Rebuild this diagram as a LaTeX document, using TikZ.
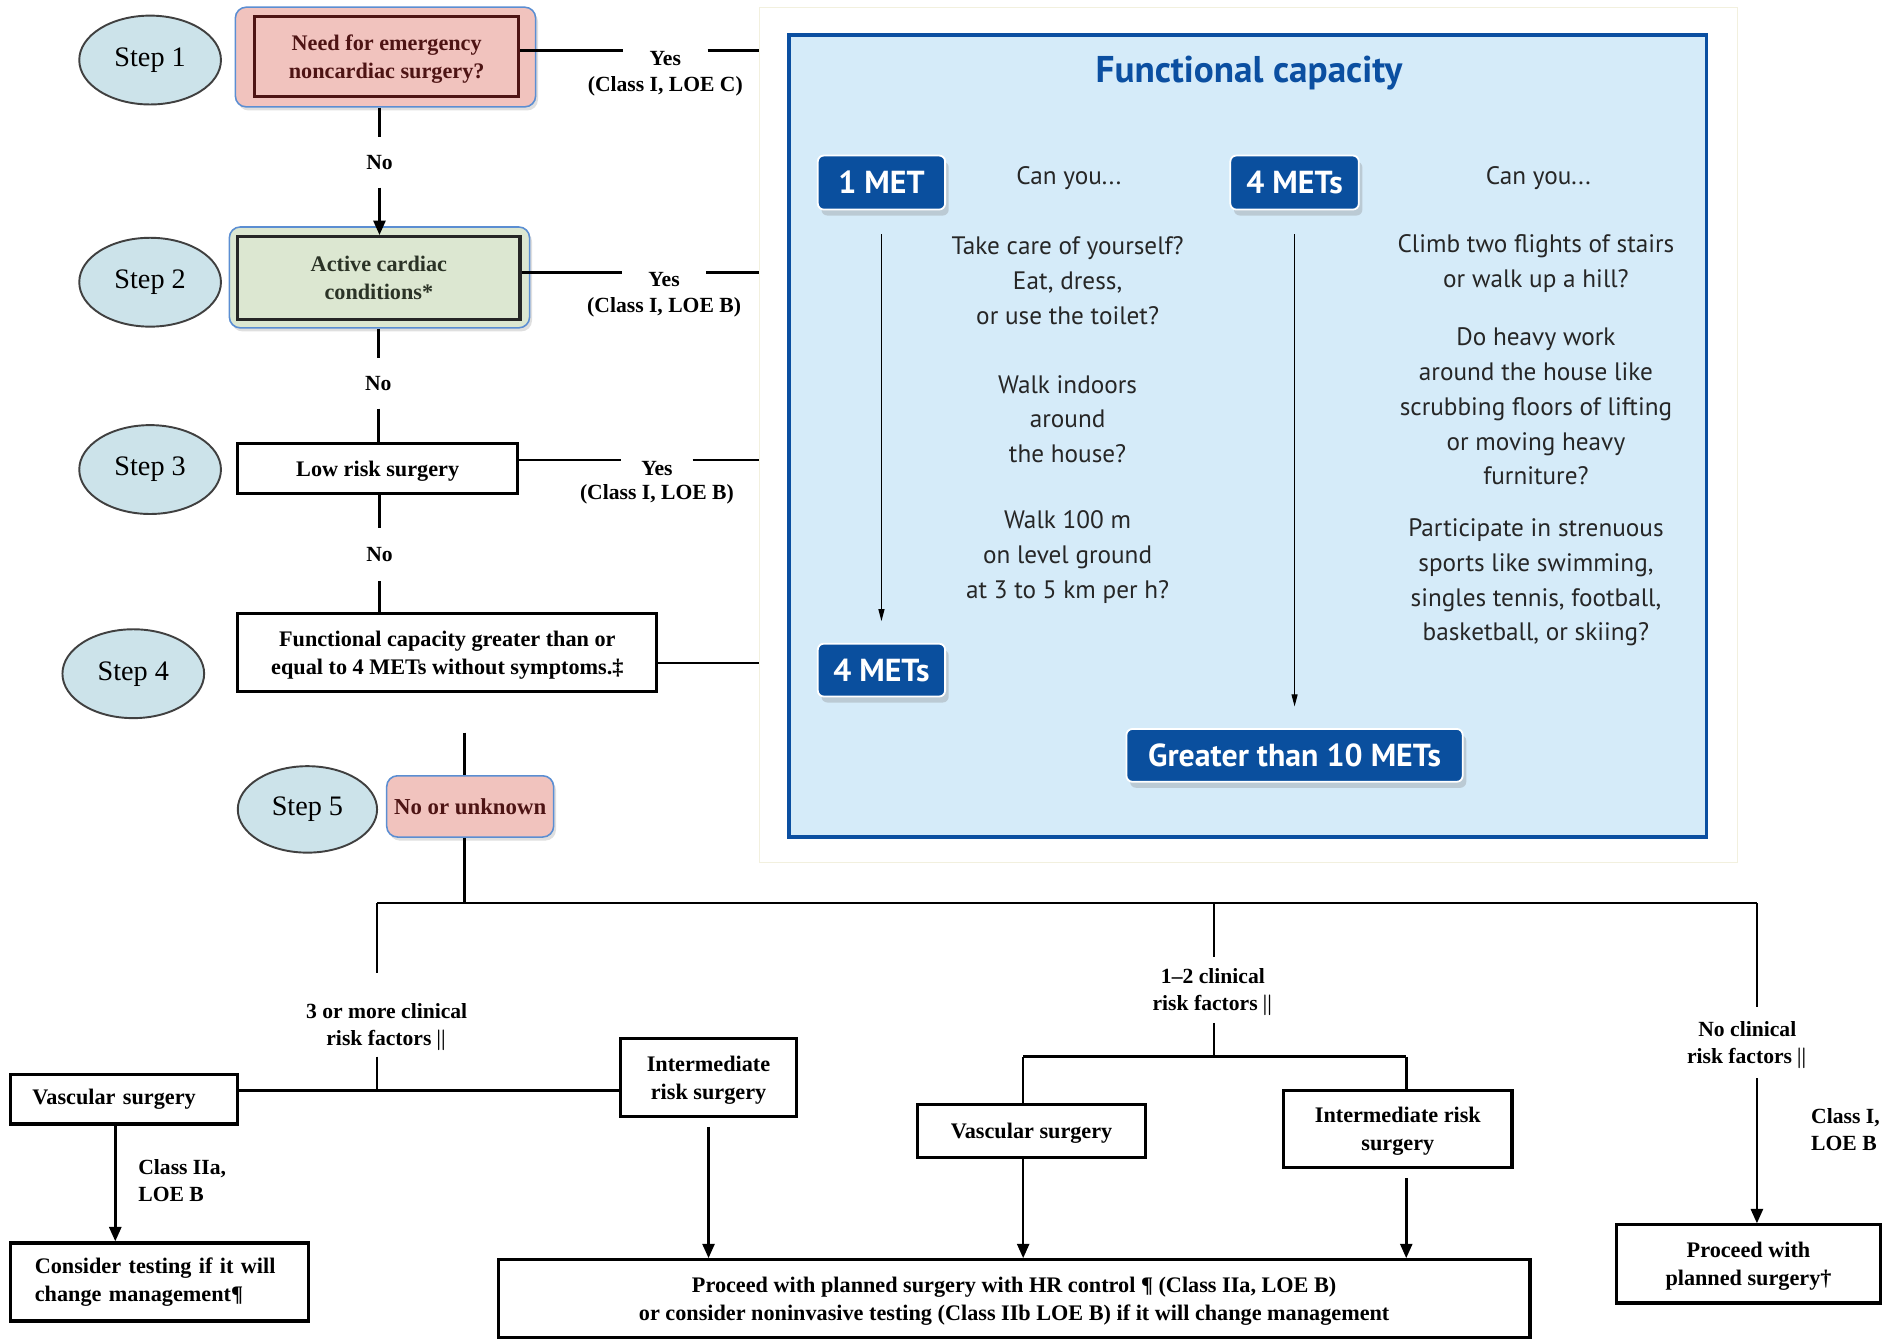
\documentclass[tikz,border=0pt]{standalone}
\usepackage{fontspec}
\setmainfont{Liberation Serif}
\newfontfamily\gillsans{PT Sans}
\usetikzlibrary{arrows.meta,shapes.geometric,shadows,calc}

\definecolor{stepfill}{HTML}{CCE3EA}
\definecolor{pinkfill}{HTML}{F1C3BE}
\definecolor{greenfill}{HTML}{DCE7D1}
\definecolor{haloline}{HTML}{5B8ED2}
\definecolor{darkred}{HTML}{4E1414}
\definecolor{darkgreen}{HTML}{2B3326}
\definecolor{panelfill}{HTML}{D5EBF9}
\definecolor{panelline}{HTML}{0B4FA1}
\definecolor{badgefill}{HTML}{0A4F9E}
\definecolor{cream}{HTML}{F2F0DE}

\begin{document}
\begin{tikzpicture}[x=1pt,y=-1pt,
  stepoval/.style={ellipse, draw=black!75, line width=1.6pt, fill=stepfill,
    minimum width=118pt, minimum height=74pt, font=\fontsize{23.5}{26}\selectfont},
  leftbox/.style={rectangle, draw, line width=2.6pt, align=left, inner ysep=2pt,
    font=\fontsize{18.5}{23}\selectfont\bfseries},
  box/.style={rectangle, draw, line width=2.6pt, align=center, inner sep=2pt, text depth=-2pt,
    font=\fontsize{18.5}{23}\selectfont\bfseries},
  halo/.style={rectangle, rounded corners=9pt, draw=haloline, line width=1.3pt,
    drop shadow={opacity=0.25, shadow xshift=2pt, shadow yshift=-3pt}},
  lbl/.style={align=center, inner sep=1pt, font=\fontsize{18}{22.5}\selectfont\bfseries},
  nolbl/.style={lbl, minimum height=42pt},
  yeslbl/.style={lbl, minimum width=70pt},
  link/.style={line width=2.2pt},
  arr/.style={line width=2.2pt, -{Triangle[length=12pt,width=10pt]}},
  badge/.style={rectangle, rounded corners=5pt, fill=badgefill, draw=white, line width=1.5pt,
    text=white, font=\gillsans\fontsize{26.5}{28}\selectfont\bfseries,
    drop shadow={opacity=0.3, shadow xshift=3pt, shadow yshift=-5pt}},
  ask/.style={align=center, inner sep=0pt, text=black!85,
    font=\gillsans\fontsize{21}{29}\selectfont},
  thinarr/.style={line width=0.9pt, -{Triangle[length=10pt,width=5pt]}}]

\useasboundingbox (0,0) rectangle (1568,1116);

% functional capacity panel
\node[rectangle, draw=cream, fill=white, minimum width=815pt, minimum height=712pt] (panel) at (1039.5,362) {};
\node[rectangle, draw=panelline, line width=3pt, fill=panelfill, minimum width=764pt, minimum height=668pt] (fcbox) at (1039,363) {};
\node[text=panelline, font=\gillsans\fontsize{31}{33}\selectfont\bfseries] (fctitle) at (1040,61) {Functional capacity};

\node[badge, minimum width=106pt, minimum height=45pt] (met1) at (734,152) {1 MET};
\node[badge, minimum width=107pt, minimum height=45pt] (met4a) at (1078,152) {4 METs};
\node[badge, minimum width=106pt, minimum height=44pt] (met4b) at (734,558) {4 METs};
\node[badge, minimum width=280pt, minimum height=44pt] (met10) at (1078,629) {Greater than 10 METs};

\node[ask] (can1) at (890,148) {Can you...};
\node[ask] (can2) at (1281,148) {Can you...};
\node[ask] (a1) at (889,233.5) {Take care of yourself?\\Eat, dress,\\or use the toilet?};
\node[ask] (a2) at (889,349) {Walk indoors\\around\\the house?};
\node[ask] (a3) at (889,464) {Walk 100 m\\on level ground\\at 3 to 5 km per h?};
\node[ask] (b1) at (1279,219.5) {Climb two flights of stairs\\or walk up a hill?};
\node[ask] (b2) at (1279,338.5) {Do heavy work\\around the house like\\scrubbing floors of lifting\\or moving heavy\\furniture?};
\node[ask] (b3) at (1279,485) {Participate in strenuous\\sports like swimming,\\singles tennis, football,\\basketball, or skiing?};

\draw[thinarr] ($(met1.south)+(0,20)$) -- ($(met4b.north)+(0,-18)$);
\draw[thinarr] ($(met4a.south)+(0,20)$) -- ($(met10.north)+(0,-18)$);

% steps 1 to 5
\node[stepoval] (s1) at (125,50) {Step 1};
\node[stepoval] (s2) at (125,235) {Step 2};
\node[stepoval] (s3) at (125,391) {Step 3};
\node[stepoval] (s4) at (111,561) {Step 4};
\node[stepoval, minimum width=116pt, minimum height=72pt] (s5) at (256,674) {Step 5};

\node[halo, fill=pinkfill, minimum width=250pt, minimum height=83pt] (halo1) at (321,47.5) {};
\node[box, draw=darkred, text=darkred, minimum width=220pt, minimum height=66pt] (q1) at (322,47) {Need for emergency\\noncardiac surgery?};
\node[halo, fill=greenfill, minimum width=250pt, minimum height=84pt] (halo2) at (316,231) {};
\node[box, draw=black!85, text=darkgreen, minimum width=235pt, minimum height=69pt] (q2) at (315.5,231.5) {Active cardiac\\conditions*};
\node[box, minimum width=233pt, minimum height=42pt] (q3) at (314.5,390) {Low risk surgery};
\node[box, minimum width=349pt, minimum height=65pt] (q4) at (372.5,543.5) {Functional capacity greater than or\\equal to 4 METs without symptoms.‡};
\node[halo, fill=pinkfill, text=darkred, font=\fontsize{19}{22}\selectfont\bfseries, minimum width=139pt, minimum height=51pt] (unk) at (391.5,671.5) {No or unknown};

\node[yeslbl] (yes1) at (554,49) {Yes};
\node[lbl] (loe1) at (554,72) {(Class I, LOE C)};
\node[yeslbl] (yes2) at (553,233) {Yes};
\node[lbl] (loe2) at (553,256) {(Class I, LOE B)};
\node[yeslbl, minimum width=59pt] (yes3) at (547,390) {Yes};
\node[lbl] (loe3) at (547,412) {(Class I, LOE B)};
\node[nolbl] (no1) at (316,135) {No};
\node[nolbl] (no2) at (315,319) {No};
\node[nolbl, minimum height=44pt] (no3) at (316,462) {No};

\draw[link] ($(q1.east)+(0,-5)$) -- ($(q1.east -| yes1.west)+(0,-5)$);
\draw[link] ($(q1.east -| yes1.east)+(0,-5)$) -- ($(q1.east -| panel.west)+(0,-5)$);
\draw[link] ($(q2.east)+(0,-4.5)$) -- ($(q2.east -| yes2.west)+(0,-4.5)$);
\draw[link] ($(q2.east -| yes2.east)+(0,-4.5)$) -- ($(q2.east -| panel.west)+(0,-4.5)$);
\draw[link] ($(q3.east)+(0,-7)$) -- ($(q3.east -| yes3.west)+(0,-7)$);
\draw[link] ($(q3.east -| yes3.east)+(0,-7)$) -- ($(q3.east -| panel.west)+(0,-7)$);
\draw[link] ($(q4.east)+(0,8.5)$) -- ($(q4.east -| panel.west)+(0,8.5)$);

\draw[link] (no1 |- halo1.south) -- (no1.north);
\draw[arr] (no1.south) -- (no1 |- q2.north);
\draw[link] (no2 |- halo2.south) -- (no2.north);
\draw[link] (no2.south) -- (no2 |- q3.north);
\draw[link] (no3 |- q3.south) -- (no3.north);
\draw[link] (no3.south) -- (no3 |- q4.north);

\coordinate (s5in) at (387,610);
\coordinate (hub) at (387,752);
\draw[link] (s5in) -- (s5in |- unk.north);
\draw[link] (s5in |- unk.south) -- (hub);

% risk factor branches
\coordinate (bL) at (314,752);
\coordinate (bM) at (1011,752);
\coordinate (bR) at (1463,752);
\coordinate (jL) at (314,908);
\coordinate (jM) at (1011,880);
\coordinate (jMl) at (852,880);
\coordinate (jMr) at (1171,880);

\node[lbl] (f3) at (322,855) {3 or more clinical\\risk factors\,{\boldmath$\|$}};
\node[lbl] (f12) at (1010,826) {1--2 clinical\\risk factors\,{\boldmath$\|$}};
\node[lbl] (f0) at (1455,870) {No clinical\\risk factors\,{\boldmath$\|$}};

\node[leftbox, inner xsep=18pt, text width=153pt, minimum height=41pt] (vasL) at (103.5,915.5) {Vascular surgery};
\node[box, minimum width=146pt, minimum height=65pt] (intL) at (590,897.5) {Intermediate\\risk surgery};
\node[leftbox, inner xsep=20pt, text width=208pt, minimum height=65pt] (cons) at (133,1067.5) {Consider testing if it will\\change management¶};
\node[box, minimum width=190pt, minimum height=44pt] (vasM) at (859,942) {Vascular surgery};
\node[box, minimum width=190pt, minimum height=64pt] (intM) at (1164,940) {Intermediate risk\\surgery};
\node[box, minimum width=859pt, minimum height=65pt] (big) at (844.5,1081.5) {Proceed with planned surgery with HR control ¶ (Class IIa, LOE B)\\or consider noninvasive testing (Class IIb LOE B) if it will change management};
\node[box, minimum width=220pt, minimum height=65pt] (proc) at (1456,1052.5) {Proceed with\\planned surgery†};
\node[lbl, align=left, anchor=west] (cls1) at (114,983) {Class IIa,\\LOE B};
\node[lbl, align=left, anchor=west] (cls2) at (1507,941) {Class I,\\LOE B};

\draw[link] (bL) -- (bR);
\draw[link] (bL) -- ($(bL |- f3.north)+(0,-24)$);
\draw[link] ($(bL |- f3.south)+(0,4)$) -- (jL);
\draw[link] (vasL.east |- jL) -- (intL.west |- jL);
\draw[arr] ($(vasL.south)+(-7.5,0)$) -- ($(vasL.south |- cons.north)+(-7.5,0)$);
\draw[arr] ($(intL.south)+(0,7)$) -- (intL.south |- big.north);

\draw[link] (bM) -- ($(bM |- f12.north)+(0,-8)$);
\draw[link] ($(bM |- f12.south)+(0,5)$) -- (jM);
\draw[link] (jMl) -- (jMr);
\draw[link] (jMl) -- (jMl |- vasM.north);
\draw[link] (jMr) -- (jMr |- intM.north);
\draw[arr] (jMl |- vasM.south) -- (jMl |- big.north);
\draw[arr] ($(jMr |- intM.south)+(0,8)$) -- (jMr |- big.north);

\draw[link] (bR) -- ($(bR |- f0.north)+(0,-11)$);
\draw[arr] ($(bR |- f0.south)+(0,7)$) -- (bR |- proc.north);
\end{tikzpicture}
\end{document}
